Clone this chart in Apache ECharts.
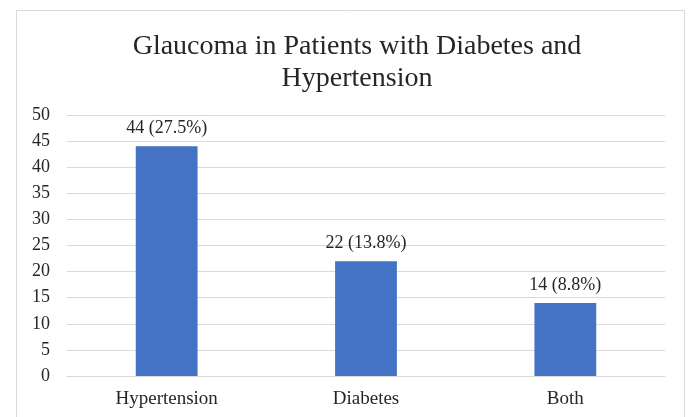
<!DOCTYPE html>
<html>
<head>
<meta charset="utf-8">
<script src="https://cdn.jsdelivr.net/npm/echarts@6/dist/echarts.min.js"></script>
<style>
  html, body { margin: 0; padding: 0; background: #fff; }
  #chart { width: 689px; height: 417px; }
</style>
</head>
<body>
<div id="chart"></div>
<script>
// Patient groups and glaucoma counts
const categories = ['Hypertension', 'Diabetes', 'Both'];
const counts = [44, 22, 14];
const percents = ['27.5', '13.8', '8.8'];
const yTicks = { min: 0, max: 50, interval: 5 };

const serif = "'Liberation Serif', 'Times New Roman', serif";
const chart = echarts.init(document.getElementById('chart'));

chart.setOption({
  animation: false,
  backgroundColor: '#ffffff',
  graphic: [{
    type: 'rect',
    shape: { x: 16.5, y: 10.5, width: 668, height: 420 },
    style: { fill: 'none', stroke: '#d9d9d9', lineWidth: 1 },
    silent: true
  }],
  title: {
    text: 'Glaucoma in Patients with Diabetes and\nHypertension',
    left: 352,
    textAlign: 'center',
    top: 26,
    textStyle: {
      fontFamily: serif,
      fontSize: 28,
      fontWeight: 'normal',
      color: '#262626',
      lineHeight: 32
    }
  },
  grid: { left: 67, right: 24, top: 115, bottom: 41 },
  xAxis: {
    type: 'category',
    data: categories,
    axisTick: { show: false },
    axisLine: { lineStyle: { color: '#d9d9d9' } },
    axisLabel: {
      margin: 14,
      fontFamily: serif,
      fontSize: 19,
      color: '#262626'
    }
  },
  yAxis: {
    type: 'value',
    min: yTicks.min,
    max: yTicks.max,
    interval: yTicks.interval,
    axisLine: { show: false },
    axisTick: { show: false },
    splitLine: { lineStyle: { color: '#d9d9d9' } },
    axisLabel: {
      margin: 17,
      fontFamily: serif,
      fontSize: 18,
      color: '#262626'
    }
  },
  series: [{
    type: 'bar',
    data: counts,
    barWidth: '31%',
    itemStyle: { color: '#4472c4' },
    label: {
      show: true,
      position: 'top',
      distance: 9,
      fontFamily: serif,
      fontSize: 18,
      color: '#262626',
      formatter: p => p.value + ' (' + percents[p.dataIndex] + '%)'
    }
  }]
});
</script>
</body>
</html>
